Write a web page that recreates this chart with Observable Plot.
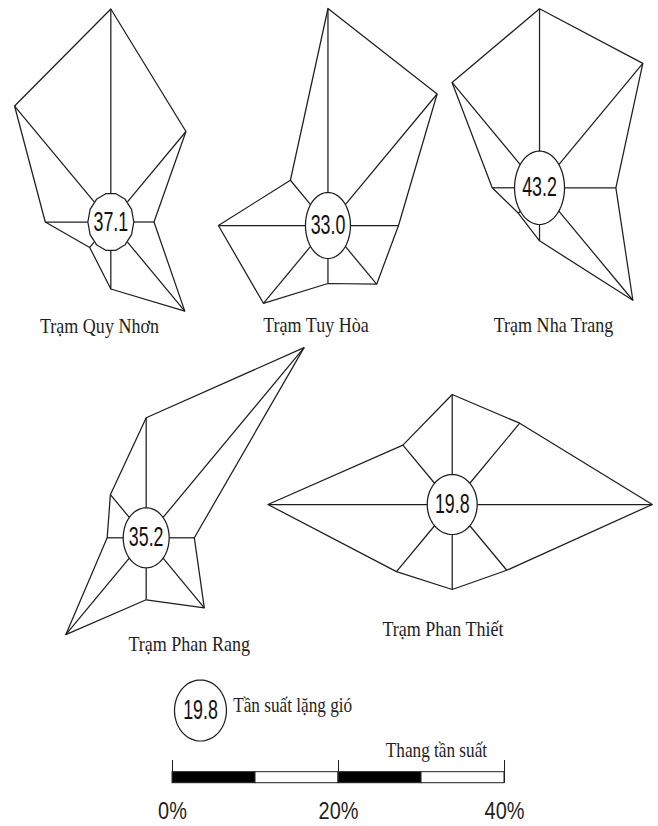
<!DOCTYPE html>
<html><head><meta charset="utf-8">
<script src="https://cdn.jsdelivr.net/npm/d3@7"></script>
<script src="https://cdn.jsdelivr.net/npm/@observablehq/plot@0.6"></script>
<style>html,body{margin:0;padding:0;background:#fff} svg{display:block}</style>
</head><body><div id="chart"></div>
<script>
// ---------- data ----------
const stations = ["Trạm Quy Nhơn", "Trạm Tuy Hòa", "Trạm Nha Trang", "Trạm Phan Rang", "Trạm Phan Thiết"];
const directions = ["N", "NE", "E", "SE", "S", "SW", "W", "NW"];
const calm = [37.1, 33.0, 43.2, 35.2, 19.8];
// wind frequency (%) per direction, N, NE, E, SE, S, SW, W, NW
const freqQuyNhon   = [21.3, 12.8, 5.2, 12.6, 6.7, 3.6, 7.9, 16.4];
const freqTuyHoa    = [21.7, 18.6, 8.5, 8.3, 5.8, 11.0, 13.2, 6.4];
const freqNhaTrang  = [17.9, 17.6, 9.2, 15.9, 5.3, 3.6, 5.7, 14.9];
const freqPhanRang  = [12.0, 26.9, 5.8, 9.9, 6.2, 13.7, 4.7, 6.1];
const freqPhanThiet = [11.0, 11.5, 24.1, 9.3, 8.5, 9.5, 22.2, 8.4];
const freqs = [freqQuyNhon, freqTuyHoa, freqNhaTrang, freqPhanRang, freqPhanThiet];
const legendCalm = 19.8;
const legendLabel = "Tần suất lặng gió";
const scaleTitle = "Thang tần suất";
const scaleSegments = [0, 10, 20, 30, 40];
const scaleTicks = [0, 20, 40];
const scaleTickLabels = ["0%", "20%", "40%"];

// ---------- layout (chart units: 1 unit = 1 % frequency) ----------
const layout = [
  {cx: -7.43, cy: 22.15, rx: 2.77, ry: 2.9,  sides: 14, lx: -8.8,  ly: 32.5},
  {cx: 18.73, cy: 22.5,  rx: 2.71, ry: 3.3,  sides: 0,  lx: 17.29, ly: 32.4},
  {cx: 44.22, cy: 18.73, rx: 3.01, ry: 3.67, sides: 0,  lx: 45.9,  ly: 32.4},
  {cx: -3.17, cy: 53.73, rx: 2.77, ry: 3.0,  sides: 0,  lx: 2.01,  ly: 64.3},
  {cx: 33.7,  cy: 50.4,  rx: 3.01, ry: 3.0,  sides: 0,  lx: 32.59, ly: 62.8}
];
const legendLayout = {cx: 3.37, cy: 71.0, rx: 3.13, ry: 3.05, tx: 7.31, ty: 70.43, sx: 31.8, sy: 74.93};
const bar = {y1: 77.17, y2: 78.27, tickTop: 76.0, labelY: 81.1};
const ink = "#1e1e1e", lw = 1.25;

// ---------- geometry ----------
const rose = [], spokes = [], rings = [], centers = [], labels = [];
function ring(id, L) {
  const n = L.sides || 72, off = L.sides ? -Math.PI / 2 + Math.PI / n : 0;
  for (let k = 0; k < n; k++) {
    const p = off + 2 * Math.PI * k / n;
    rings.push({id, x: L.cx + L.rx * Math.cos(p), y: L.cy + L.ry * Math.sin(p)});
  }
}
stations.forEach((name, s) => {
  const L = layout[s];
  freqs[s].forEach((f, i) => {
    const a = i * Math.PI / 4, ux = Math.sin(a), uy = -Math.cos(a);
    rose.push({station: name, dir: directions[i], x: L.cx + f * ux, y: L.cy + f * uy});
    const t = 1 / Math.hypot(ux / L.rx, uy / L.ry);
    if (f > t) spokes.push({x1: L.cx + t * ux, y1: L.cy + t * uy, x2: L.cx + f * ux, y2: L.cy + f * uy});
  });
  ring(name, L);
  centers.push({x: L.cx, y: L.cy, v: calm[s].toFixed(1)});
  labels.push({x: L.lx, y: L.ly, name});
});
ring("legend", legendLayout);
centers.push({x: legendLayout.cx, y: legendLayout.cy, v: legendCalm.toFixed(1)});
const segs = scaleSegments.slice(0, -1).map((v, i) => ({x1: v, x2: scaleSegments[i + 1], fill: i % 2 ? "white" : "black"}));

const chart = Plot.plot({
  width: 658, height: 826, margin: 0,
  x: {domain: [-172 / 8.3, 486 / 8.3], range: [0, 658], axis: null},
  y: {domain: [0, 82.6], range: [0, 826], axis: null},
  style: {background: "white", color: ink},
  marks: [
    Plot.line(rose, {x: "x", y: "y", z: "station", curve: "linear-closed", stroke: ink, strokeWidth: lw}),
    Plot.link(spokes, {x1: "x1", y1: "y1", x2: "x2", y2: "y2", stroke: ink, strokeWidth: lw}),
    Plot.line(rings, {x: "x", y: "y", z: "id", curve: "linear-closed", stroke: ink, strokeWidth: lw}),
    Plot.text(centers, {x: "x", y: "y", text: "v", fontSize: 27, fontFamily: "Liberation Sans, Arial, sans-serif", fill: "#111"}),
    Plot.text(labels, {x: "x", y: "y", text: "name", fontSize: 22, fontFamily: "Liberation Serif, Times New Roman, serif", fill: ink}),
    Plot.text([legendLabel], {x: legendLayout.tx, y: legendLayout.ty, text: d => d, textAnchor: "start", fontSize: 21, fontFamily: "Liberation Serif, Times New Roman, serif", fill: ink}),
    Plot.text([scaleTitle], {x: legendLayout.sx, y: legendLayout.sy, text: d => d, fontSize: 21, fontFamily: "Liberation Serif, Times New Roman, serif", fill: ink}),
    Plot.rect(segs, {x1: "x1", x2: "x2", y1: bar.y1, y2: bar.y2, fill: "fill", stroke: ink, strokeWidth: 1}),
    Plot.ruleX(scaleTicks, {x: d => d, y1: bar.tickTop, y2: bar.y2, stroke: ink, strokeWidth: 1}),
    Plot.text(scaleTicks, {x: d => d, y: bar.labelY, text: (d, i) => scaleTickLabels[i], fontSize: 24, fontFamily: "Liberation Sans, Arial, sans-serif", fill: ink})
  ]
});

// horizontally condense texts to match the squeezed original
chart.querySelectorAll("text").forEach(t => {
  const s = t.textContent.trim();
  const k = /%$/.test(s) ? 0.83 : /^\d+\.\d$/.test(s) ? 0.66 : 0.82;
  let tr = t.getAttribute("transform");
  if (!tr) {
    const x = +(t.getAttribute("x") || 0), y = +(t.getAttribute("y") || 0);
    t.removeAttribute("x"); t.removeAttribute("y");
    tr = `translate(${x},${y})`;
  }
  t.setAttribute("transform", tr + ` scale(${k},1)`);
});
document.getElementById("chart").appendChild(chart);
</script>
</body></html>
